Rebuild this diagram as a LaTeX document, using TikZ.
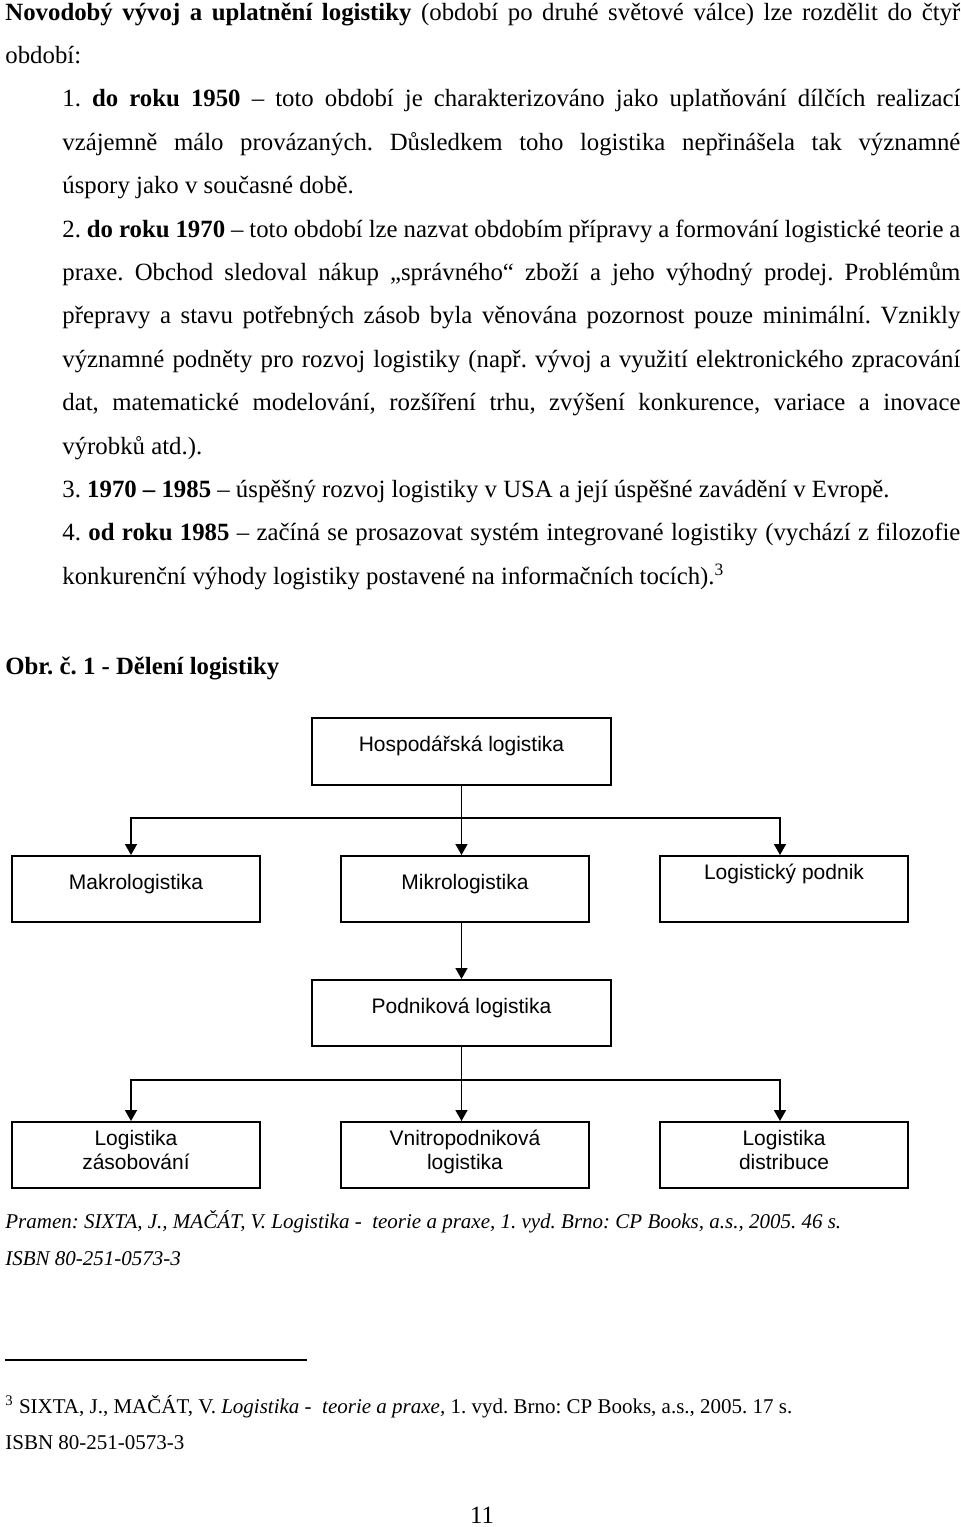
\documentclass[tikz,border=0pt]{standalone}
\usepackage{fontspec}
\setmainfont{Liberation Serif}
\newfontfamily\boxfont{Liberation Sans}
\usetikzlibrary{arrows.meta}
\newcommand{\jline}[2]{\makebox[#1][s]{#2}}
\frenchspacing
\begin{document}
\begin{tikzpicture}[x=0.5pt,y=-0.5pt,
  txt/.style={anchor=base west,inner sep=0pt,font=\fontsize{12.4}{14}\selectfont},
  note/.style={anchor=base west,inner sep=0pt,font=\fontsize{10.5}{12}\selectfont},
  box/.style={draw,line width=1pt,inner sep=0pt,align=center,text height=8pt,text depth=8pt,
    minimum width=124pt,minimum height=33pt,font=\boxfont\fontsize{10.5}{12}\selectfont},
  bigbox/.style={box,minimum width=149.5pt,minimum height=33.5pt},
  twoline/.style={box,text height=20pt,text depth=6pt},
  conn/.style={line width=0.8pt},
  arr/.style={conn,-{Triangle[length=5.5pt,width=6pt]}}]
\useasboundingbox (0,0) rectangle (960,1527);
%text
  \node[txt] (l0) at (5,20) {\jline{477.5pt}{\textbf{Novodobý vývoj a uplatnění logistiky} (období po druhé světové válce) lze rozdělit do čtyř}};
  \node[txt] (l1) at (5,63.4) {období:};
  \node[txt] (l2) at (62,106.8) {\jline{449pt}{1. \textbf{do roku 1950} – toto období je charakterizováno jako uplatňování dílčích realizací}};
  \node[txt] (l3) at (62,150.2) {\jline{449pt}{vzájemně málo provázaných. Důsledkem toho logistika nepřinášela tak významné}};
  \node[txt] (l4) at (62,193.6) {úspory jako v současné době.};
  \node[txt] (l5) at (62,237) {\jline{449pt}{2. \textbf{do roku 1970} – toto období lze nazvat obdobím přípravy a formování logistické teorie a}};
  \node[txt] (l6) at (62,280.4) {\jline{449pt}{praxe. Obchod sledoval nákup „správného“ zboží a jeho výhodný prodej. Problémům}};
  \node[txt] (l7) at (62,323.8) {\jline{449pt}{přepravy a stavu potřebných zásob byla věnována pozornost pouze minimální. Vznikly}};
  \node[txt] (l8) at (62,367.2) {\jline{449pt}{významné podněty pro rozvoj logistiky (např. vývoj a využití elektronického zpracování}};
  \node[txt] (l9) at (62,410.6) {\jline{449pt}{dat, matematické modelování, rozšíření trhu, zvýšení konkurence, variace a inovace}};
  \node[txt] (l10) at (62,454) {výrobků atd.).};
  \node[txt] (l11) at (62,497.4) {3. \textbf{1970 – 1985} – úspěšný rozvoj logistiky v USA a její úspěšné zavádění v Evropě.};
  \node[txt] (l12) at (62,540.8) {\jline{449pt}{4. \textbf{od roku 1985} – začíná se prosazovat systém integrované logistiky (vychází z filozofie}};
  \node[txt] (l13) at (62,584.2) {konkurenční výhody logistiky postavené na informačních tocích).\textsuperscript{3}};
  \node[txt] (obr) at (5,674) {\textbf{Obr. č. 1 - Dělení logistiky}};
%boxy
  \node[bigbox] (hosp) at (461.5,751) {Hospodářská logistika};
  \node[box] (makro) at (136,889) {Makrologistika};
  \node[box] (mikro) at (465,889) {Mikrologistika};
  \node[box,text depth=18pt] (lpodnik) at (784,889) {Logistický podnik};
  \node[bigbox,minimum height=33pt] (podnik) at (461.5,1013) {Podniková logistika};
  \node[twoline] (zas) at (136,1155) {Logistika\\zásobování};
  \node[twoline] (vnitro) at (465,1155) {Vnitropodniková\\logistika};
  \node[twoline] (distr) at (784,1155) {Logistika\\distribuce};
%spojnice
  \coordinate (j1) at (461.5,818);
  \coordinate (j2) at (461.5,1080);
  \draw[conn] (hosp) -- (j1);
  \draw[arr] (j1) -| ([xshift=-2.5pt]makro.north);
  \draw[arr] (j1) -- (j1 |- mikro.north);
  \draw[arr] (j1) -| ([xshift=-2pt]lpodnik.north);
  \draw[arr] (mikro.south -| j1) -- (podnik);
  \draw[conn] (podnik) -- (j2);
  \draw[arr] (j2) -| ([xshift=-2.5pt]zas.north);
  \draw[arr] (j2) -- (j2 |- vnitro.north);
  \draw[arr] (j2) -| ([xshift=-2pt]distr.north);
%zdroj a poznamka
  \node[note] (pramen) at (5,1228) {\itshape Pramen: SIXTA, J., MAČÁT, V. Logistika -\ \ teorie a praxe, 1. vyd. Brno: CP Books, a.s., 2005. 46 s.};
  \node[note] (isbn1) at (5,1265) {\itshape ISBN 80-251-0573-3};
  \coordinate (r1) at (5,1360);
  \coordinate (r2) at (307,1360);
  \draw[line width=0.6pt] (r1) -- (r2);
  \node[note] (fn) at (5,1413) {\textsuperscript{3} SIXTA, J., MAČÁT, V. \textit{Logistika -\ \ teorie a praxe,} 1. vyd. Brno: CP Books, a.s., 2005. 17 s.};
  \node[note] (isbn2) at (5,1449) {ISBN 80-251-0573-3};
  \node[txt,anchor=base] (strana) at (482,1523) {11};
\end{tikzpicture}
\end{document}
